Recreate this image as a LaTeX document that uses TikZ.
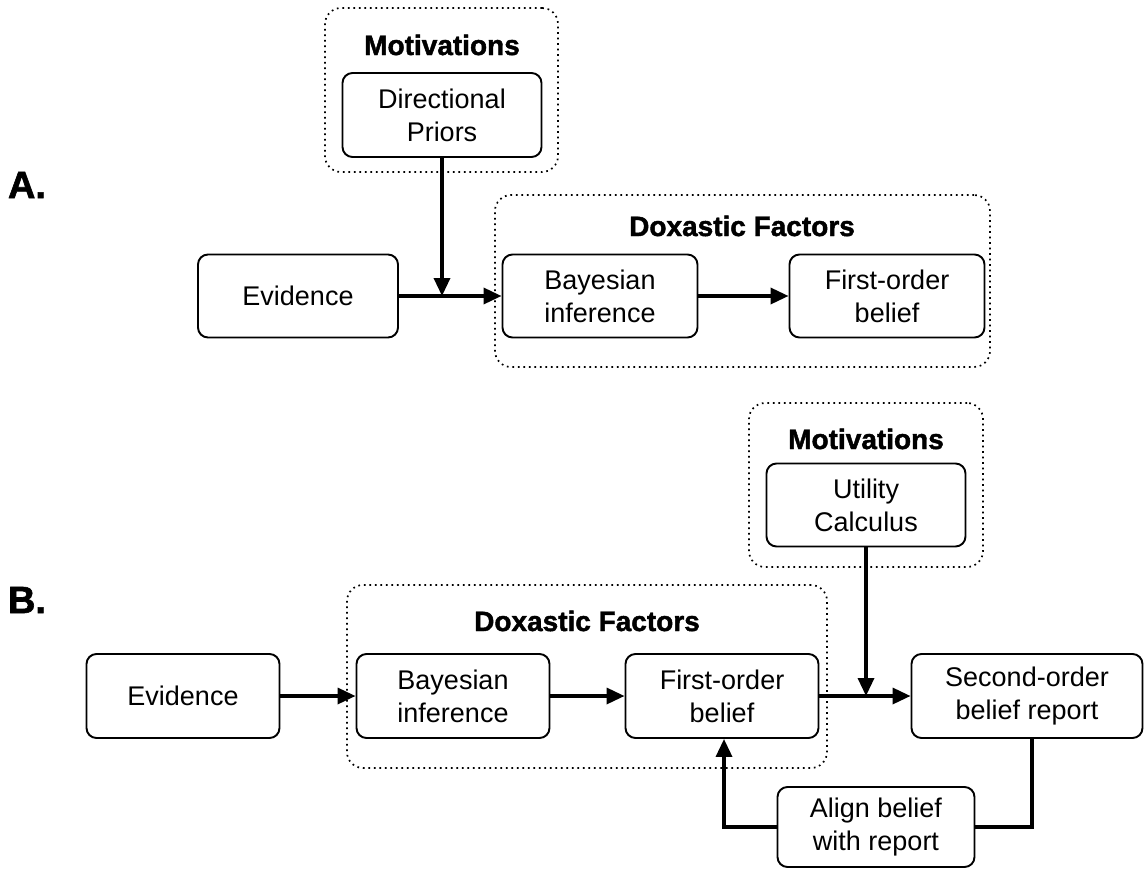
\documentclass[tikz,border=0pt]{standalone}
\usepackage{fontspec}
\setmainfont{Liberation Sans}
\newfontfamily\heavyfont[FakeBold=1.6]{Liberation Sans Bold}
\usetikzlibrary{arrows.meta}
\begin{document}
\begin{tikzpicture}[x=1pt,y=-1pt,
  box/.style={draw,line width=1.9pt,rounded corners=10pt,align=center,
    minimum width=195pt,minimum height=83pt,inner sep=0pt,
    font=\fontsize{27}{33}\selectfont},
  grp/.style={draw,line width=1.7pt,dash pattern=on 1.7pt off 3.8pt,
    rounded corners=16pt,inner sep=0pt},
  ttl/.style={font=\fontsize{28}{32}\selectfont\heavyfont},
  lbl/.style={font=\fontsize{38}{40}\selectfont\heavyfont},
  flow/.style={line width=3.4pt,-{Triangle[length=18pt,width=16pt]}},
  link/.style={line width=3.4pt}]
\useasboundingbox (0,0) rectangle (1145,869);

% ---------- A: motivated reasoning through priors ----------
\node[lbl] (labA) at (27,185) {A.};
\node[grp,minimum width=233pt,minimum height=164pt] (motA) at (441.5,90) {};
\node[ttl] (motAt) at (442,45) {Motivations};
\node[box,minimum width=199pt,minimum height=84pt] (dirp) at (442,115) {Directional\\Priors};

\node[grp,minimum width=495pt,minimum height=172pt] (doxA) at (742.5,281) {};
\node[ttl] (doxAt) at (742,226) {Doxastic Factors};
\node[box,minimum width=200pt] (evA) at (298,296) {Evidence};
\node[box] (bayA) at (600,296) {Bayesian\\inference};
\node[box] (firA) at (887,296) {First-order\\belief};

\draw[flow] (evA) -- (bayA);
\coordinate (jA) at (dirp.south |- evA.east);
\draw[flow] (dirp) -- (jA);
\draw[flow] (bayA) -- (firA);

% ---------- B: motivated belief reports ----------
\node[lbl] (labB) at (27,600) {B.};
\node[grp,minimum width=234pt,minimum height=164pt] (motB) at (866,485) {};
\node[ttl] (motBt) at (866,439) {Motivations};
\node[box,minimum width=199pt] (util) at (866,505) {Utility\\Calculus};

\node[grp,minimum width=480pt,minimum height=183pt] (doxB) at (587,676.5) {};
\node[ttl] (doxBt) at (587,621) {Doxastic Factors};
\node[box,minimum width=193pt,minimum height=84pt] (evB) at (183,696) {Evidence};
\node[box,minimum width=193pt,minimum height=84pt] (bayB) at (453,696) {Bayesian\\inference};
\node[box,minimum width=193pt,minimum height=84pt] (firB) at (722,696) {First-order\\belief};
\node[box,minimum width=231pt,minimum height=84pt] (sec) at (1027,696) {Second-order\\belief report};
\node[box,minimum width=197pt,minimum height=80pt] (align) at (876,827) {Align belief\\with report};

\draw[flow] (evB) -- (bayB);
\draw[flow] (bayB) -- (firB);
\draw[flow] (firB) -- (sec);
\coordinate (jB) at (util.south |- sec.west);
\draw[flow] (util) -- (jB);

\coordinate (secDown) at (1032,738);
\coordinate (firUp) at (724,738);
\draw[link] (sec.south -| secDown) |- (align.east);
\draw[flow] (align.west) -| (firB.south -| firUp);
\end{tikzpicture}
\end{document}
